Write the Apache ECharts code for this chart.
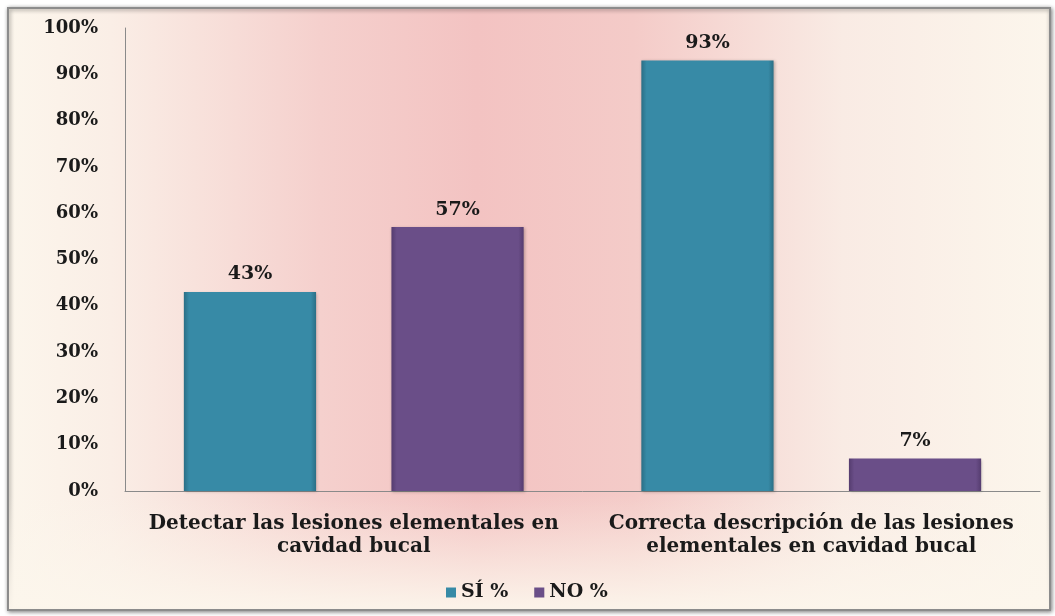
<!DOCTYPE html>
<html>
<head>
<meta charset="utf-8">
<script src="https://cdn.jsdelivr.net/npm/echarts@6/dist/echarts.min.js"></script>
<style>
  html, body { margin: 0; padding: 0; background: #ffffff; }
  #chart { width: 1055px; height: 616px; }
</style>
</head>
<body>
<div id="chart"></div>
<script>
// Categories (two-line labels) and percentage values per series
const categories = [
  'Detectar las lesiones elementales en\ncavidad bucal',
  'Correcta descripción de las lesiones\nelementales en cavidad bucal'
];
const siValues = [43, 93];
const noValues = [57, 7];
const seriesNames = ['SÍ %', 'NO %'];

const SERIF = '"DejaVu Serif", "Liberation Serif", serif';

const chart = echarts.init(document.getElementById('chart'));

function barStyle(mid, edge) {
  return {
    color: {
      type: 'linear', x: 0, y: 0, x2: 1, y2: 0,
      colorStops: [
        { offset: 0, color: edge },
        { offset: 0.04, color: mid },
        { offset: 0.96, color: mid },
        { offset: 1, color: edge }
      ]
    },
    shadowColor: 'rgba(0,0,0,0.25)',
    shadowBlur: 3,
    shadowOffsetX: 1,
    shadowOffsetY: 1
  };
}

const textBase = {
  fontFamily: SERIF,
  fontWeight: 'bold',
  color: '#1a1a1a'
};

chart.setOption({
  backgroundColor: '#ffffff',
  graphic: [
    {
      type: 'rect',
      z: -10,
      shape: { x: 8, y: 8, width: 1042, height: 602 },
      style: {
        fill: {
          type: 'linear', x: 0, y: 0, x2: 1, y2: 0,
          colorStops: [
            { offset: 0, color: '#fcf6ec' },
            { offset: 0.1, color: '#faeee6' },
            { offset: 0.3, color: '#f5d0cd' },
            { offset: 0.45, color: '#f3c3c2' },
            { offset: 0.6, color: '#f4cbc8' },
            { offset: 0.8, color: '#f9ebe4' },
            { offset: 1, color: '#fcf6ec' }
          ]
        },
        stroke: '#8c8c8c',
        lineWidth: 2,
        shadowColor: 'rgba(0,0,0,0.45)',
        shadowBlur: 4,
        shadowOffsetX: 1,
        shadowOffsetY: 1
      }
    },
    {
      type: 'rect',
      z: -9,
      shape: { x: 9, y: 495, width: 1040, height: 114 },
      style: {
        fill: {
          type: 'linear', x: 0, y: 0, x2: 0, y2: 1,
          colorStops: [
            { offset: 0, color: 'rgba(252,246,236,0)' },
            { offset: 1, color: 'rgba(252,246,236,0.95)' }
          ]
        }
      }
    }
  ],
  grid: {
    left: 125,
    right: 15,
    top: 28,
    bottom: 125,
    containLabel: false
  },
  legend: {
    bottom: 9,
    left: 441,
    itemWidth: 10,
    itemHeight: 10,
    itemGap: 26,
    icon: 'rect',
    textStyle: Object.assign({ fontSize: 19 }, textBase),
    data: seriesNames
  },
  xAxis: {
    type: 'category',
    data: categories,
    axisLine: { show: true, lineStyle: { color: '#8a8a8a', width: 1 } },
    axisTick: { show: false },
    axisLabel: Object.assign({
      interval: 0,
      margin: 21,
      lineHeight: 23,
      fontSize: 20
    }, textBase)
  },
  yAxis: {
    type: 'value',
    min: 0,
    max: 100,
    interval: 10,
    splitLine: { show: false },
    axisLine: { show: true, lineStyle: { color: '#8a8a8a', width: 1 } },
    axisTick: { show: false },
    axisLabel: Object.assign({
      margin: 27,
      formatter: '{value}%',
      fontSize: 18
    }, textBase)
  },
  series: [
    {
      name: seriesNames[0],
      type: 'bar',
      data: siValues,
      barWidth: '28.9%',
      barGap: '57%',
      itemStyle: barStyle('#378aa6', '#2b6f86'),
      label: Object.assign({
        show: true,
        position: 'top',
        distance: 8,
        formatter: '{c}%',
        fontSize: 19
      }, textBase)
    },
    {
      name: seriesNames[1],
      type: 'bar',
      data: noValues,
      barWidth: '28.9%',
      itemStyle: barStyle('#6a4e88', '#553c6f'),
      label: Object.assign({
        show: true,
        position: 'top',
        distance: 8,
        formatter: '{c}%',
        fontSize: 19
      }, textBase)
    }
  ]
});
</script>
</body>
</html>
